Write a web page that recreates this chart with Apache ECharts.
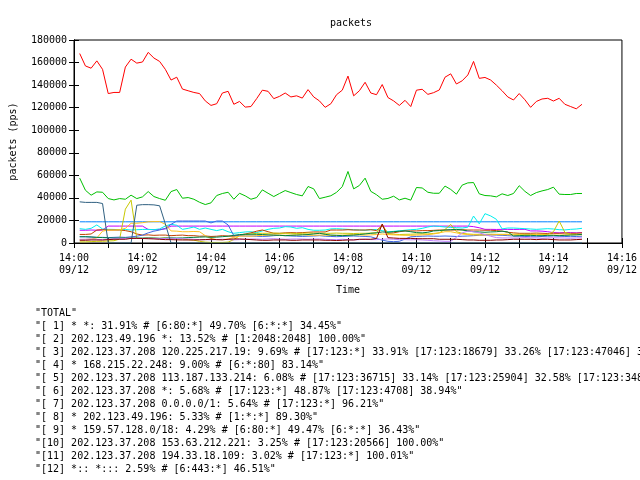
<!DOCTYPE html>
<html><head><meta charset="utf-8">
<script src="https://cdn.jsdelivr.net/npm/echarts@6/dist/echarts.min.js"></script>
<style>html,body{margin:0;padding:0;background:#fff}#c{width:640px;height:480px}</style>
</head><body><div id="c"></div>
<script>
// time of first sample (seconds after 14:00:00) and sampling step
const startSec = 10, stepSec = 10;
const hourLabel = '14', dateLabel = '09/12';

const seriesNames = [
  '"TOTAL"',
  '"[ 1] * *: 31.91% # [6:80:*] 49.70% [6:*:*] 34.45%"',
  '"[ 2] 202.123.49.196 *: 13.52% # [1:2048:2048] 100.00%"',
  '"[ 3] 202.123.37.208 120.225.217.19: 9.69% # [17:123:*] 33.91% [17:123:18679] 33.26% [17:123:47046] 3',
  '"[ 4] * 168.215.22.248: 9.00% # [6:*:80] 83.14%"',
  '"[ 5] 202.123.37.208 113.187.133.214: 6.08% # [17:123:36715] 33.14% [17:123:25904] 32.58% [17:123:348',
  '"[ 6] 202.123.37.208 *: 5.68% # [17:123:*] 48.87% [17:123:4708] 38.94%"',
  '"[ 7] 202.123.37.208 0.0.0.0/1: 5.64% # [17:123:*] 96.21%"',
  '"[ 8] * 202.123.49.196: 5.33% # [1:*:*] 89.30%"',
  '"[ 9] * 159.57.128.0/18: 4.29% # [6:80:*] 49.47% [6:*:*] 36.43%"',
  '"[10] 202.123.37.208 153.63.212.221: 3.25% # [17:123:20566] 100.00%"',
  '"[11] 202.123.37.208 194.33.18.109: 3.02% # [17:123:*] 100.01%"',
  '"[12] *:: *::: 2.59% # [6:443:*] 46.51%"'
];
const seriesColors = ['#ff0000','#00c000','#0080ff','#c000ff','#00eeee','#c04000','#c8c800','#4169e1','#ffc020','#008040','#c080ff','#306080','#8b0000'];

const total = [168000,157000,155000,161500,154000,132500,133500,133500,156000,163000,
 159500,160500,169000,164000,161000,154000,144500,147000,136500,135000,
 133500,132500,126000,122000,123500,133000,134500,123000,125500,120500,
 121000,128000,135500,134500,128000,130000,133000,129500,130500,128500,
 136000,129500,126000,120300,123500,131500,135500,148000,130500,135000,
 142500,133000,131500,140500,129000,126000,122000,126500,121000,135500,
 136300,131800,133300,135700,147000,150000,141000,143800,149000,161000,
 146000,146800,144500,140000,135000,129500,126800,132500,127000,120300,
 125500,127700,128300,125900,128300,123000,121000,119000,123000];
const s1 = [57500,46800,42400,45300,45000,39400,38200,39400,38800,42400,
 39400,40900,45600,41200,39400,37900,45600,47400,39700,40300,
 38800,36100,34100,35600,42100,43900,45000,38800,44100,41800,
 38800,40300,47100,44100,41200,43900,46500,44700,43000,41800,
 50100,48000,39400,40600,41900,44900,50000,63400,48000,51000,
 57500,45800,42800,38800,39500,41500,38200,39700,38000,49200,
 48800,45000,44100,44100,50500,47500,43300,51300,53300,53600,
 43600,42100,41800,40900,43600,42100,43900,50800,45800,42100,
 44700,46200,47400,49500,43300,43000,43000,43900,43900];
const s2 = [18800,18800,18800,18800,18800,18800,18800,18800,18800,18800,
 18800,18800,18800,18800,18800,18800,18800,18800,18800,18800,
 18800,18800,18800,18800,18800,18800,18800,18800,18800,18800,
 18800,18800,18800,18800,18800,18800,18800,18800,18800,18800,
 18800,18800,18800,18800,18800,18800,18800,18800,18800,18800,
 18800,18800,18800,18800,18800,18800,18800,18800,18800,18800,
 18800,18800,18800,18800,18800,18800,18800,18800,18800,18800,
 18800,18800,18800,18800,18800,18800,18800,18800,18800,18800,
 18800,18800,18800,18800,18800,18800,18800,18800,18800];
const s3 = [11300,11300,11500,11300,11500,15000,15000,15000,15000,15000,
 15000,15000,12000,11800,12000,12500,15000,15000,15000,15000,
 15000,15000,15000,15000,15000,15000,15000,15000,15000,15000,
 15000,15000,15000,15000,15000,15000,15000,15000,15000,15000,
 15000,15000,15000,15000,15000,15000,15000,15000,15000,15000,
 15000,15000,15000,15000,15000,15000,15000,15000,15000,15000,
 15000,15000,15000,15000,15000,15000,15000,15000,15000,14500,
 13500,12100,12100,12000,12100,12100,12000,12100,12100,10700,
 10700,10500,10000,9200,9000,9200,9200,9000,9200];
const s4 = [12700,12100,13000,16000,12400,12100,12000,11800,12000,11500,
 11800,12000,12100,11800,12500,15100,16600,15700,12100,13000,
 14200,12100,13300,12100,11000,12100,10000,8600,9200,9800,
 10000,9200,10700,12100,13000,13300,14500,14200,13000,13600,
 12100,11300,11300,11500,12500,12700,12400,12100,11800,11500,
 11300,11800,12000,11000,10000,10300,10800,11300,11800,12100,
 13000,14200,15100,14700,14200,13800,13600,13300,14000,23900,
 17000,26000,24000,21000,12500,13300,13300,13000,12700,12400,
 12100,12400,12700,12400,11800,11600,12100,12400,13000];
const s5 = [7600,7600,8000,11500,11800,11500,11500,11500,11000,10000,
 8000,7000,7200,6800,7000,7000,6500,6800,7000,6500,
 6500,6000,6200,5800,6000,6500,6200,6000,7000,8000,
 9000,10500,11500,10000,8600,8600,9000,9200,9000,9200,
 9500,9800,9800,9800,11500,11500,11500,11800,11500,11500,
 11500,11800,11000,15500,8600,9000,10000,10700,10700,10700,
 11000,11000,11200,11500,11500,11500,11500,11800,11500,11500,
 11500,11300,11300,11000,10500,9500,9000,8600,8600,8600,
 8800,8600,8400,8600,8600,8800,8600,8600,9000];
const s6 = [1000,1000,1200,1500,1500,1800,2000,3500,30000,38000,
 4000,4000,4500,4200,4000,4500,4000,3800,3500,3000,
 2500,1500,800,500,500,500,800,3000,6500,7500,
 8000,8600,8600,8600,8800,8600,8600,8600,8400,8600,
 8800,8600,8600,8600,8600,8800,8600,8600,8400,8600,
 8600,8800,9000,16500,8000,7800,7500,7700,7800,8000,
 8200,8000,8500,9000,12000,16500,10000,8600,8000,7700,
 7700,7700,7800,7700,7700,7700,7800,7700,7700,7700,
 7800,7700,7700,10000,19500,9500,7700,7700,7800];
const s7 = [5500,5500,5200,5000,5000,4800,5000,5200,5000,5500,
 6000,7000,9000,10500,11500,13000,16500,19500,19500,19500,
 19500,19500,19500,17800,19500,19500,16000,6500,6500,6200,
 6200,6000,5800,6000,6500,6800,6500,6200,6000,5800,
 6000,6200,6500,6000,5800,5600,5800,6000,6200,6000,
 5800,5500,4000,2500,1500,1200,1500,3500,5500,5800,
 6000,6200,6000,6000,6200,6000,5800,6000,6200,6500,
 6800,7000,7200,7000,6800,6500,6200,6000,5800,5600,
 5500,5800,6000,6200,6000,5800,5600,5800,6000];
const s8 = [3000,3200,3500,4500,10500,11500,11500,11800,13000,17500,
 17500,18000,18800,19000,19000,16600,10700,10500,10000,10000,
 10200,10000,6500,4000,3000,3000,3500,5000,6000,6200,
 6000,6500,6800,7000,7200,7000,6800,7000,7200,7500,
 7000,6800,7000,7000,6800,6800,7000,7200,7500,7200,
 7000,7200,7500,8000,7500,7200,7000,6800,6800,7000,
 7200,7500,8000,9000,10000,10000,9000,8000,7500,7200,
 7000,7000,7200,7500,7400,7400,7200,7000,7000,7200,
 7400,7400,7200,7000,7000,7200,7400,7400,7200];
const s9 = [5600,5600,5400,5000,4800,4600,4400,4400,4500,4400,
 4400,4400,4500,4400,4200,4400,4600,4400,4500,4800,
 5000,5200,5400,5000,5200,5600,6000,6800,7500,7700,
 7800,7700,7500,7200,7000,6800,6500,6800,7000,7200,
 7500,8000,8600,7700,7000,6800,6500,6800,7000,7500,
 8000,8600,9000,9800,9500,10000,10500,10700,10000,9200,
 9000,9500,10700,11000,11500,11800,12100,11500,10700,10000,
 9800,9500,9800,10000,10500,9800,6200,6500,6800,6800,
 6500,6500,6800,6800,6500,6800,7000,7200,7700];
const s10 = [3300,3300,3500,3300,3000,3300,3600,3800,4000,4200,
 4000,4000,4200,4000,3800,4000,4200,4000,3800,3600,
 3300,3000,3000,2800,3000,3300,3000,2800,3000,3300,
 3500,3500,3300,3600,3800,3500,3300,3500,3600,3500,
 3300,3500,3600,3300,3000,3000,3300,3000,2800,3000,
 3300,3000,3000,3300,3600,3300,3000,3000,2800,3000,
 2700,2400,2000,1800,1500,1500,5000,9000,10500,10000,
 9000,7500,6000,4800,4500,4500,4400,4500,4800,4500,
 4400,4200,4500,4600,4500,4400,4200,4500,4600];
const s11 = [36500,36000,36000,36000,35000,0,0,0,0,0,
 33500,34000,34000,33800,33000,17000,0,0,0,0,
 0,0,0,0,0,0,0,0,0,0,
 0,0,0,0,0,0,0,0,0,0,
 0,0,0,0,0,0,0,0,0,0,
 0,0,0,0,0,0,0,0,0,0,
 0,0,0,0,0,0,0,0,0,0,
 0,0,0,0,0,0,0,0,0,0,
 0,0,0,0,0,0,0,0,0];
const s12 = [2400,2400,2700,2700,2600,3000,3300,3300,3300,4100,
 4100,4000,3800,3600,3300,3000,3000,2800,2700,2700,
 2700,2800,3000,3300,3000,2800,3300,3600,3600,3300,
 3000,2700,2400,2400,2700,2700,2700,2400,2400,2700,
 2700,2700,2700,2400,2400,2200,2400,2700,2700,3300,
 3300,3300,4000,16800,4700,4400,4100,4100,4100,3800,
 3800,3800,3800,3300,3300,3300,3300,3000,2700,2700,
 2400,2400,2400,2700,2700,3000,3300,3300,3300,3300,
 3000,3300,3300,3000,2700,2700,2700,3000,3300];

const allValues = [total,s1,s2,s3,s4,s5,s6,s7,s8,s9,s10,s11,s12];
const FONT = '"DejaVu Sans Mono", monospace';

const series = allValues.map((vals, si) => ({
  name: seriesNames[si],
  type: 'line',
  symbol: 'none',
  showSymbol: false,
  animation: false,
  color: seriesColors[si],
  lineStyle: { width: 1, color: seriesColors[si] },
  data: vals.map((v, i) => [startSec + i * stepSec, v])
}));

function fmtX(v) {
  if (v % 120 !== 0) return '';
  const m = Math.round(v / 60);
  return hourLabel + ':' + (m < 10 ? '0' + m : '' + m) + '\n' + dateLabel;
}

const chart = echarts.init(document.getElementById('c'), null, { renderer: 'canvas' });
chart.setOption({
  backgroundColor: '#fff',
  animation: false,
  title: {
    text: 'packets', left: 325, top: 13,
    textStyle: { fontFamily: FONT, fontSize: 10, fontWeight: 'normal', color: '#000' }
  },
  grid: { left: 70, right: 18, top: 40, bottom: 237, containLabel: false, show: true, borderColor: '#000', borderWidth: 1 },
  legend: {
    data: seriesNames, orient: 'vertical', left: 30, top: 307, padding: 0,
    itemGap: 0, itemWidth: 0, itemHeight: 13, icon: 'rect', selectedMode: false,
    itemStyle: { opacity: 0 }, lineStyle: { opacity: 0 },
    textStyle: { fontFamily: FONT, fontSize: 10, color: '#000', lineHeight: 13 }
  },
  xAxis: [{
    type: 'value', min: 0, max: 960, interval: 60, position: 'bottom',
    axisLine: { show: true, lineStyle: { color: '#000', width: 1 } },
    axisTick: { show: true, inside: true, length: 5, lineStyle: { color: '#000' } },
    axisLabel: { formatter: fmtX, color: '#000', fontFamily: FONT, fontSize: 10, lineHeight: 12, margin: 9, showMinLabel: true, showMaxLabel: true, hideOverlap: false },
    splitLine: { show: false },
    name: 'Time', nameLocation: 'middle', nameGap: 42,
    nameTextStyle: { fontFamily: FONT, fontSize: 10, color: '#000' }
  }, {
    type: 'value', min: 0, max: 960, interval: 60, position: 'top',
    axisLine: { show: true, lineStyle: { color: '#000', width: 1 } },
    axisTick: { show: true, inside: true, length: 5, lineStyle: { color: '#000' } },
    axisLabel: { show: false }, splitLine: { show: false }
  }],
  yAxis: [{
    type: 'value', min: 0, max: 180000, interval: 20000, position: 'left',
    axisLine: { show: true, lineStyle: { color: '#000', width: 1 } },
    axisTick: { show: true, inside: true, length: 5, lineStyle: { color: '#000' } },
    axisLabel: { color: '#000', fontFamily: FONT, fontSize: 10, margin: 7, formatter: v => String(v) },
    splitLine: { show: false },
    name: 'packets (pps)', nameLocation: 'middle', nameGap: 56,
    nameTextStyle: { fontFamily: FONT, fontSize: 10, color: '#000' }
  }, {
    type: 'value', min: 0, max: 180000, interval: 20000, position: 'right',
    axisLine: { show: true, lineStyle: { color: '#000', width: 1 } },
    axisTick: { show: true, inside: true, length: 5, lineStyle: { color: '#000' } },
    axisLabel: { show: false }, splitLine: { show: false }
  }],
  series: series
});
</script>
</body></html>
